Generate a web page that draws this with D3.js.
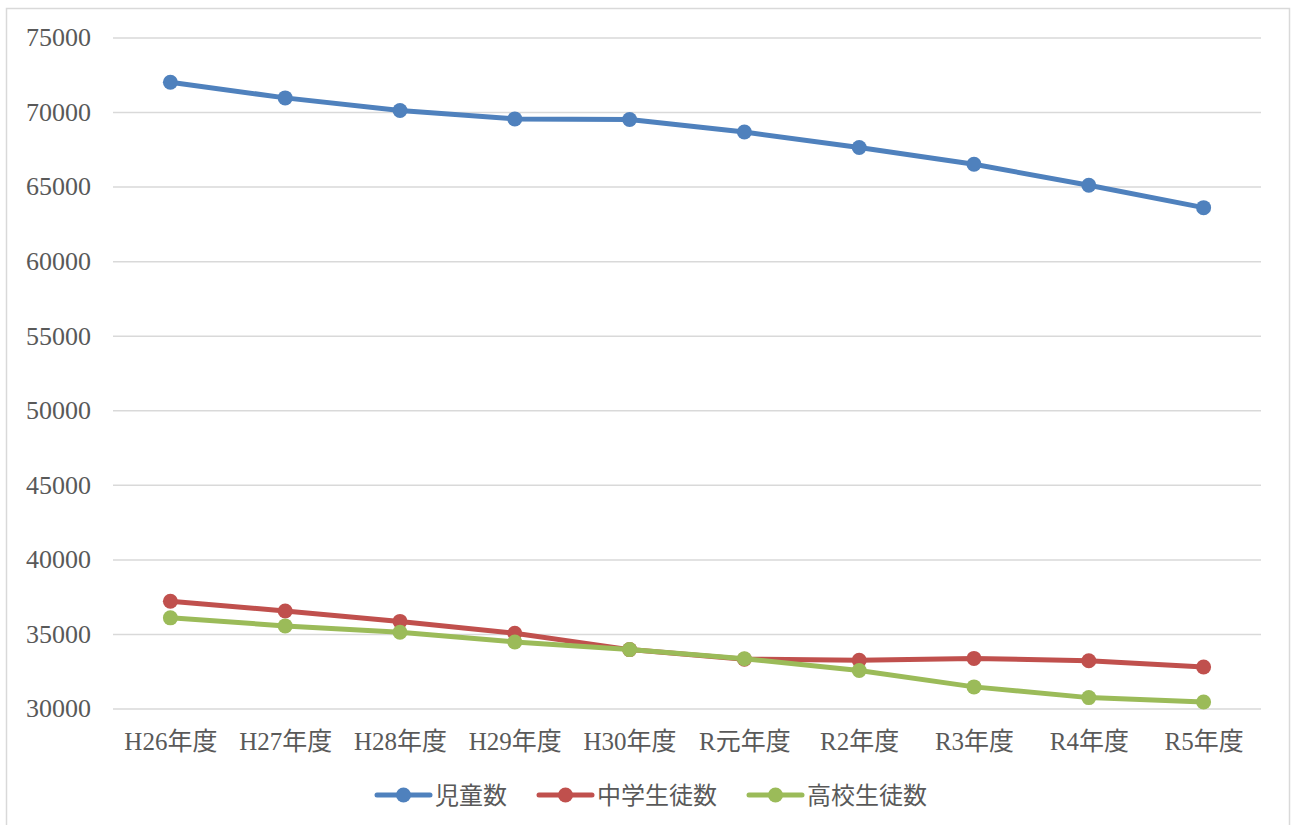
<!DOCTYPE html>
<html>
<head>
<meta charset="utf-8">
<script src="https://cdn.jsdelivr.net/npm/d3@7/dist/d3.min.js"></script>
<style>
  html, body { margin: 0; padding: 0; background: #ffffff; }
  svg { display: block; }
</style>
</head>
<body>
<svg id="chart" width="1292" height="825"></svg>
<script>
// 年度別の児童・生徒数
const categories = ["H26年度", "H27年度", "H28年度", "H29年度", "H30年度", "R元年度", "R2年度", "R3年度", "R4年度", "R5年度"];
const jidou   = [72000, 70950, 70100, 69540, 69500, 68660, 67620, 66500, 65090, 63590];
const chugaku = [37190, 36540, 35840, 35050, 33950, 33310, 33230, 33360, 33200, 32780];
const koukou  = [36080, 35540, 35110, 34460, 33950, 33340, 32550, 31450, 30730, 30440];
const seriesNames = ["児童数", "中学生徒数", "高校生徒数"];
const seriesColors = ["#4F81BD", "#C0504D", "#9BBB59"];
const yTicks = [30000, 35000, 40000, 45000, 50000, 55000, 60000, 65000, 70000, 75000];

const series = [jidou, chugaku, koukou].map((values, i) => ({
  name: seriesNames[i], color: seriesColors[i], values
}));

const svg = d3.select("#chart");
const plot = { left: 113, right: 1261, top: 37.5, bottom: 708.5 };

// outer frame
svg.append("rect")
  .attr("x", 6.5).attr("y", 8.5)
  .attr("width", 1283).attr("height", 840)
  .attr("fill", "#ffffff")
  .attr("stroke", "#D9D9D9").attr("stroke-width", 1.5);

const x = d3.scalePoint().domain(categories).range([plot.left, plot.right]).padding(0.5);
const y = d3.scaleLinear().domain([30000, 75000]).range([plot.bottom, plot.top]);

const textColor = "#595959";
const latinFont = "'Liberation Serif', 'Noto Sans CJK JP', serif";

// horizontal gridlines + y tick labels
const yAxis = d3.axisLeft(y).tickValues(yTicks).tickSize(-(plot.right - plot.left)).tickPadding(22).tickFormat(d3.format("d"));
const gy = svg.append("g").attr("transform", `translate(${plot.left},0)`).call(yAxis);
gy.select(".domain").remove();
gy.selectAll(".tick line").attr("stroke", "#D9D9D9").attr("stroke-width", 1.5);
gy.selectAll(".tick text")
  .attr("fill", textColor)
  .style("font-family", latinFont)
  .style("font-size", "26px");

// x axis labels
const xAxis = d3.axisBottom(x).tickSize(0).tickPadding(24);
const gx = svg.append("g").attr("transform", `translate(0,${plot.bottom})`).call(xAxis);
gx.select(".domain").remove();
gx.selectAll(".tick text")
  .attr("fill", textColor)
  .style("font-family", latinFont)
  .style("font-size", "25px");

// lines and markers
const line = d3.line().x((d, i) => x(categories[i])).y(d => y(d));
const gSeries = svg.append("g");
series.forEach(s => {
  gSeries.append("path")
    .datum(s.values)
    .attr("d", line)
    .attr("fill", "none")
    .attr("stroke", s.color)
    .attr("stroke-width", 5)
    .attr("stroke-linejoin", "round")
    .attr("stroke-linecap", "round");
  gSeries.selectAll(null)
    .data(s.values)
    .enter().append("circle")
    .attr("cx", (d, i) => x(categories[i]))
    .attr("cy", d => y(d))
    .attr("r", 7.5)
    .attr("fill", s.color);
});

// legend
const legendY = 795;
const legend = svg.append("g");
const items = series.map(s => {
  const g = legend.append("g");
  g.append("line").attr("x1", 0).attr("x2", 53).attr("y1", 0).attr("y2", 0)
    .attr("stroke", s.color).attr("stroke-width", 5).attr("stroke-linecap", "round");
  g.append("circle").attr("cx", 26.5).attr("cy", 0).attr("r", 7.5).attr("fill", s.color);
  const t = g.append("text").attr("x", 58).attr("y", 0).attr("dy", "0.36em")
    .attr("fill", textColor)
    .style("font-family", "'Noto Sans CJK JP', sans-serif")
    .style("font-size", "24px")
    .text(s.name);
  return { g, w: 58 + t.node().getComputedTextLength() };
});
const gap = 32;
const totalW = d3.sum(items, d => d.w) + gap * (items.length - 1);
let cx = 652 - totalW / 2;
items.forEach(it => {
  it.g.attr("transform", `translate(${cx},${legendY})`);
  cx += it.w + gap;
});
</script>
</body>
</html>
